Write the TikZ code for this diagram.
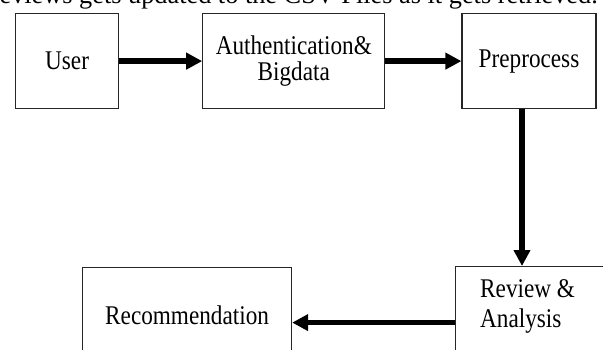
\documentclass[tikz,border=0pt]{standalone}
\usepackage{fontspec}
\setmainfont{Liberation Serif}
\newfontfamily\tallserif[FakeStretch=0.86]{Liberation Serif}
\usetikzlibrary{positioning,arrows.meta}

\begin{document}
\begin{tikzpicture}[
  x=1pt, y=-1pt,
  box/.style={draw=black!85, line width=1.2pt, align=center, inner sep=0pt,
              font=\tallserif\fontsize{27}{26}\selectfont, minimum height=95pt},
  txt/.style={align=left, inner sep=0pt, font=\tallserif\fontsize{27}{30}\selectfont},
  arr/.style={-{Triangle[length=16pt, width=16pt]}, line width=5.5pt}
]
  \useasboundingbox (0,0) rectangle (603,350);
  \clip (0,0) rectangle (603,350);

  % cut-off line of the page above the figure
  \node[anchor=base east, inner sep=0pt, font=\fontsize{26.3}{28}\selectfont] (pageline) at (598,4)
    {eviews gets updated to the CSV Files as it gets retrieved.};

  \node[box, minimum width=103pt, anchor=north west] (user) at (15,13) {User};
  \node[box, minimum width=182pt, right=83pt of user] (auth) {Authentication\&\\ Bigdata};
  \node[box, minimum width=134pt, right=76pt of auth] (pre) {Preprocess};

  \draw[arr] (user) -- (auth);
  \draw[arr] (auth) -- (pre);

  \node[box, minimum width=175pt, minimum height=120pt, anchor=north west] (review) at (455,266) {};
  \node[txt, anchor=north west] (reviewtxt) at ([shift={(25,13)}]review.north west) {Review \&\\ Analysis};
  \node[box, minimum width=209pt, minimum height=96pt, anchor=north west] (rec) at (82,267) {Recommendation};

  \draw[arr] ([xshift=-7pt]pre.south) -- ([xshift=-7pt]pre.south |- review.north);
  \draw[arr] ([yshift=-7pt]rec.east -| review.west) -- ([yshift=-7pt]rec.east);
\end{tikzpicture}
\end{document}
